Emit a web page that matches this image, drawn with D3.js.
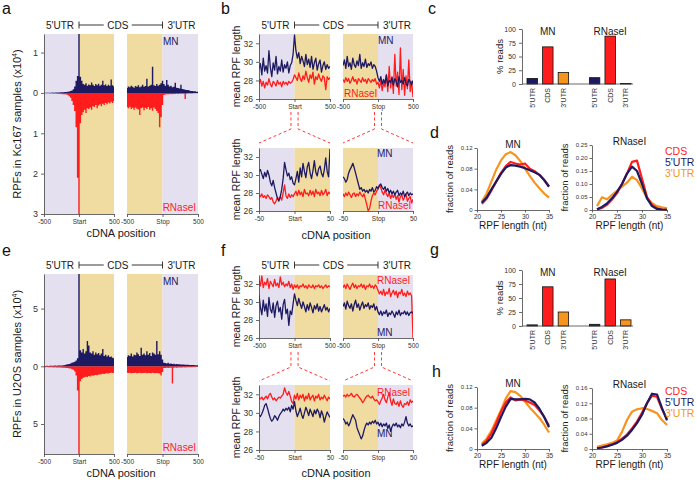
<!DOCTYPE html>
<html>
<head>
<meta charset="utf-8">
<script src="https://cdn.jsdelivr.net/npm/d3@7"></script>
<style>
  body { margin: 0; background: #fff; }
  svg { display: block; font-family: "Liberation Sans", Arial, Helvetica, sans-serif; }
</style>
</head>
<body>
<script>
// colours
const NAVY = '#1e1a62';
const RED = '#ff1c1c';
const ORANGE = '#f7941d';
const LAV = '#e4e0f0';
const TAN = '#f0dba1';
const FONT = '"Liberation Sans", Arial, Helvetica, sans-serif';

// positions around start / stop codons
const posWide = d3.range(-500, 501, 20);
const posNarrow = d3.range(-50, 51, 2);
const regions = ["5'UTR", 'CDS', "3'UTR"];
const regionColors = [NAVY, RED, ORANGE];
const rpfLen = [21, 22, 23, 24, 25, 26, 27, 28, 29, 30, 31, 32, 33, 34, 35];

// a: RPF counts in Kc167 (x10^4), MN up, RNaseI down
const kcCovMnStart = [0.005,0.005,0.006,0.005,0.007,0.006,0.008,0.007,0.009,0.01,
  0.012,0.011,0.014,0.016,0.018,0.02,0.025,0.03,0.035,0.045,
  0.06,0.09,0.16,0.3,0.42,1.6,0.4,0.3,0.22,0.2,
  0.24,0.18,0.21,0.19,0.26,0.2,0.17,0.22,0.19,0.23,
  0.18,0.2,0.3,0.19,0.21,0.17,0.2,0.18,0.33,0.19,
  0.16];
const kcCovMnStop = [0.12,0.16,0.14,0.18,0.15,0.13,0.17,0.15,0.19,0.14,
  0.16,0.2,0.15,0.17,0.35,0.16,0.18,0.2,0.65,0.19,
  0.17,0.22,0.18,0.2,0.24,0.3,0.22,0.18,0.32,0.2,
  0.16,0.18,0.14,0.15,0.25,0.13,0.12,0.11,0.2,0.1,
  0.09,0.08,0.07,0.07,0.06,0.05,0.05,0.04,0.04,0.03,
  0.03];
const kcCovRnStart = [0.01,0.01,0.012,0.01,0.015,0.012,0.015,0.018,0.015,0.02,
  0.02,0.025,0.022,0.03,0.03,0.035,0.04,0.05,0.08,0.12,
  0.2,0.3,0.45,0.85,2.1,3.1,0.75,0.55,0.48,0.42,
  0.5,0.38,0.4,0.36,0.42,0.33,0.35,0.3,0.38,0.31,
  0.28,0.33,0.27,0.3,0.25,0.28,0.24,0.26,0.22,0.25,
  0.2];
const kcCovRnStop = [0.35,0.38,0.34,0.4,0.37,0.42,0.36,0.39,0.41,0.55,
  0.38,0.36,0.43,0.37,0.4,0.35,0.42,0.38,0.44,0.36,
  0.4,0.45,0.5,0.85,0.6,0.3,0.05,0.04,0.035,0.03,
  0.03,0.028,0.03,0.025,0.025,0.022,0.025,0.02,0.02,0.022,
  0.018,0.15,0.018,0.015,0.015,0.012,0.012,0.01,0.01,0.01,
  0.01];

// e: RPF counts in U2OS (x10^4)
const u2CovMnStart = [0.03,0.03,0.04,0.03,0.04,0.05,0.04,0.05,0.06,0.05,
  0.06,0.07,0.08,0.08,0.1,0.12,0.15,0.18,0.2,0.25,
  0.3,0.35,0.4,0.5,0.7,9,1.4,1.2,1.5,1.1,
  1.3,2.2,1.8,1.2,1.1,1.3,1.0,1.2,1.05,1.15,
  0.95,1.1,1.5,0.9,1.0,0.85,0.95,0.8,0.85,0.75,
  0.7];
const u2CovMnStop = [0.8,0.95,0.9,1.1,0.85,1.0,0.95,1.2,1.05,0.9,
  1.6,1.0,1.1,0.95,1.3,1.0,1.15,0.9,1.2,1.1,
  1.0,2.2,1.05,1.3,1.0,0.6,0.3,0.28,0.25,0.3,
  0.22,0.24,0.2,0.22,0.18,0.2,0.17,0.18,0.16,0.15,
  0.16,0.14,0.13,0.14,0.12,0.12,0.11,0.11,0.1,0.1,
  0.1];
const u2CovRnStart = [0.08,0.08,0.07,0.08,0.09,0.08,0.09,0.1,0.09,0.1,
  0.1,0.11,0.1,0.12,0.12,0.13,0.14,0.15,0.18,0.2,
  0.25,0.3,0.45,0.8,2.1,8,1.3,1.1,1.0,0.95,
  0.9,0.92,0.85,0.88,0.8,0.82,0.78,0.75,0.77,0.7,
  0.72,0.68,0.65,0.67,0.62,0.6,0.62,0.58,0.56,0.57,
  0.55];
const u2CovRnStop = [0.55,0.58,0.56,0.6,0.57,0.59,0.55,0.6,0.58,0.56,
  0.61,0.57,0.59,0.55,0.6,0.58,0.57,0.6,0.56,0.58,
  0.6,0.57,0.6,0.62,0.8,0.5,0.15,0.14,0.13,0.14,
  0.12,0.13,1.5,0.12,0.11,0.12,0.1,0.11,0.1,0.1,
  0.09,0.1,0.09,0.08,0.09,0.08,0.08,0.07,0.08,0.07,
  0.07];

// b: mean RPF length, Kc167, +-500
const kcLenMnStart = [29.2,29.8,28.6,30.4,29.0,29.6,28.8,31.2,29.4,28.4,
  29.9,29.1,30.6,28.7,29.5,29.0,30.2,28.9,29.7,29.3,
  30.0,28.8,29.6,29.9,30.8,32.9,31.2,30.4,31.0,29.8,
  30.6,30.1,29.5,30.8,29.7,30.3,29.4,30.6,29.2,29.9,
  30.4,29.1,29.8,30.2,28.9,29.6,30.0,29.2,29.7,29.3,
  29.5];
const kcLenRnStart = [27.6,28.1,27.4,27.9,27.2,27.8,27.5,28.2,27.6,27.3,
  27.9,27.7,27.4,28.0,27.6,27.8,27.3,27.9,27.6,27.8,
  27.5,27.9,27.7,27.8,28.1,28.6,28.3,28.0,28.8,28.2,
  27.9,28.5,28.1,29.0,28.3,27.8,28.6,28.2,28.9,27.6,
  28.4,28.1,28.7,28.2,27.9,28.5,28.3,27.0,28.4,28.1,
  28.3];
const kcLenMnStop = [29.6,30.2,29.3,30.6,29.5,29.9,29.2,30.4,29.7,29.4,
  30.1,29.6,30.8,29.3,29.9,29.5,30.3,29.4,29.8,29.6,
  30.0,29.3,29.7,29.5,29.0,28.3,27.9,28.4,27.6,28.1,
  27.7,28.6,27.4,28.0,27.8,28.3,27.5,28.2,27.9,27.3,
  28.4,27.8,28.0,27.6,28.3,27.7,27.4,28.1,27.9,27.5,
  28.0];
const kcLenRnStop = [28.1,27.8,28.3,27.9,28.2,27.7,28.0,28.4,27.9,28.1,
  27.6,28.2,28.0,27.8,28.3,27.9,28.1,27.7,28.2,28.0,
  27.8,28.1,27.9,28.2,27.6,27.8,27.2,28.0,26.9,27.8,
  27.3,28.6,26.8,29.5,27.2,28.4,26.6,30.8,27.4,28.9,
  26.5,31.5,27.0,29.2,26.4,28.5,27.1,30.2,26.8,27.9,
  26.2];

// b (lower): mean RPF length, Kc167, +-50
const kcZoomMnStart = [30.4,30.6,30.1,29.6,30.3,29.8,30.5,30.0,29.2,28.8,
  29.4,28.6,28.0,27.4,27.1,27.6,28.4,29.6,31.4,30.6,
  29.9,30.2,29.5,29.8,29.1,28.9,29.6,30.4,29.2,30.8,
  29.8,31.3,30.4,29.7,30.9,31.4,30.2,29.6,30.5,31.6,
  30.3,29.9,30.7,31.0,30.2,29.8,30.6,31.9,30.4,29.8,
  32.9];
const kcZoomRnStart = [27.8,27.6,27.9,27.5,27.7,27.4,27.8,27.6,27.3,27.5,
  27.0,26.8,27.1,27.5,27.3,27.6,27.2,28.0,28.9,27.7,
  27.4,27.9,27.5,27.8,27.6,27.9,28.2,27.7,28.3,27.8,
  28.1,27.6,28.4,27.9,28.0,27.7,28.3,27.8,28.2,27.6,
  28.4,27.9,28.1,27.7,28.3,27.8,28.0,28.4,27.7,28.1,
  27.9];
const kcZoomMnStop = [29.8,29.6,29.2,29.5,30.2,30.6,30.9,31.3,30.8,30.2,
  29.6,29.0,28.4,28.6,28.2,28.4,28.1,28.3,28.0,28.4,
  28.2,28.6,28.1,28.3,28.7,28.5,28.8,29.0,28.6,28.4,
  28.7,28.2,28.5,28.0,28.3,27.9,28.2,27.8,28.1,28.3,
  27.7,28.0,27.8,28.2,27.6,27.9,28.1,27.7,28.0,27.8,
  27.9];
const kcZoomRnStop = [27.9,27.6,28.0,27.7,28.1,27.8,27.5,27.9,28.0,27.6,
  27.9,27.7,28.1,27.8,27.6,27.9,27.3,26.7,26.0,26.3,
  27.1,27.7,28.0,27.8,28.2,28.4,28.9,28.6,28.1,27.8,
  28.3,27.9,27.6,28.0,27.4,27.8,27.5,27.9,27.3,27.7,
  27.0,27.6,27.8,27.2,27.5,27.9,27.1,27.4,27.6,26.9,
  27.3];

// f: mean RPF length, U2OS, +-500
const u2LenMnStart = [30.8,29.4,28.6,30.2,29.0,29.8,28.4,30.5,29.2,28.8,
  29.9,28.3,29.6,30.1,28.9,29.4,28.1,29.7,30.3,28.7,
  29.2,27.4,29.0,28.6,29.8,30.9,30.2,29.6,30.4,29.8,
  29.3,30.0,29.5,28.9,29.7,29.1,29.9,29.4,28.8,29.6,
  29.2,29.8,29.0,29.5,28.9,29.3,29.7,29.1,29.4,28.9,
  29.3];
const u2LenRnStart = [32.4,31.8,32.9,31.6,32.2,31.9,32.6,31.5,32.3,32.0,
  31.7,32.5,31.8,32.1,31.6,32.8,31.9,32.2,31.7,32.0,
  31.8,32.3,31.6,32.0,31.4,31.9,31.6,31.9,31.5,31.8,
  31.7,32.0,31.6,31.8,31.5,31.9,31.7,31.6,31.9,31.5,
  31.8,31.7,31.9,31.6,31.8,31.5,31.7,31.9,31.6,31.8,
  31.7];
const u2LenMnStop = [29.5,29.9,29.2,30.1,29.6,29.3,29.8,29.0,29.7,30.2,
  29.4,29.8,29.1,29.6,30.0,29.3,29.7,29.5,29.9,29.2,
  29.6,29.4,29.8,29.1,29.5,28.9,28.6,29.0,28.5,28.9,
  28.7,29.1,28.4,28.8,28.6,29.0,28.7,28.3,28.9,28.6,
  29.1,28.5,28.8,28.7,29.0,28.6,28.9,28.5,28.8,28.9,
  28.7];
const u2LenRnStop = [31.6,31.9,31.5,32.0,31.7,31.4,31.8,32.1,31.6,31.9,
  31.5,31.8,31.7,32.0,31.6,31.9,31.4,31.8,31.7,32.0,
  31.6,31.8,31.5,31.9,31.7,31.3,30.9,31.2,30.8,31.4,
  30.7,31.1,30.9,31.5,30.6,31.0,31.3,30.8,31.2,30.5,
  31.1,30.9,31.4,30.7,31.0,30.6,31.2,30.8,31.0,30.7,
  26.0];

// f (lower): mean RPF length, U2OS, +-50
const u2ZoomMnStart = [29.8,29.6,29.9,30.3,30.8,31.0,30.5,29.9,29.4,29.1,
  29.3,29.7,29.5,29.2,29.6,29.9,30.1,30.4,30.2,30.5,
  30.3,30.6,30.1,30.8,30.4,31.2,30.2,29.6,30.0,30.5,
  29.8,29.4,30.0,30.6,30.2,29.7,30.4,30.0,29.6,30.3,
  29.9,30.4,30.1,29.5,30.2,29.8,29.0,29.6,30.1,29.8,
  29.5];
const u2ZoomRnStart = [31.6,31.5,31.7,31.4,31.6,31.8,31.5,31.9,32.1,31.7,
  31.4,31.6,31.3,31.5,31.7,31.6,31.8,32.0,32.7,32.2,
  31.9,32.3,31.8,31.2,31.0,31.9,31.5,32.1,31.4,31.9,
  31.6,32.0,31.3,31.8,31.5,32.1,31.4,31.7,31.9,31.3,
  31.8,31.6,32.0,31.4,31.7,31.5,31.9,31.6,31.3,31.7,
  31.5];
const u2ZoomMnStop = [29.4,29.2,28.8,29.0,28.6,28.9,29.4,29.8,29.5,29.2,
  28.4,28.0,27.6,27.2,27.5,28.1,28.6,28.9,28.7,29.0,
  28.8,29.1,28.9,29.2,28.8,29.0,28.6,28.9,28.5,28.8,
  28.6,28.9,28.3,28.7,28.0,28.5,28.8,28.6,28.9,28.5,
  28.7,28.4,28.8,28.6,29.0,29.6,28.9,28.6,28.8,28.5,
  28.6];
const u2ZoomRnStop = [31.8,31.9,31.7,32.0,31.8,31.9,32.1,31.8,31.7,31.9,
  32.0,31.8,31.6,31.4,31.1,31.3,31.6,31.8,31.9,31.7,
  31.6,31.8,31.5,31.3,31.4,31.2,30.9,31.3,31.6,32.0,
  31.4,31.1,31.7,32.2,31.3,30.8,31.5,31.0,30.9,31.2,
  30.7,31.3,30.8,30.6,31.0,30.9,31.2,30.8,31.4,31.1,
  31.3];

// c, g: % reads per region (5'UTR, CDS, 3'UTR)
const kcPctMn = [10, 67.5, 21];
const kcPctRn = [11.5, 87, 1];
const u2PctMn = [2, 70, 25];
const u2PctRn = [3, 84, 11];

// d, h: RPF length distributions
const kcDistMnCds = [0.012,0.022,0.038,0.055,0.072,0.085,0.093,0.090,0.088,0.090,0.080,0.075,0.068,0.058,0.046];
const kcDistMnUtr5 = [0.014,0.024,0.040,0.055,0.070,0.082,0.087,0.086,0.084,0.081,0.077,0.073,0.068,0.058,0.045];
const kcDistMnUtr3 = [0.016,0.032,0.055,0.078,0.096,0.108,0.112,0.106,0.095,0.080,0.066,0.053,0.042,0.032,0.024];
const kcDistRnCds = [0.002,0.008,0.02,0.04,0.065,0.1,0.14,0.185,0.19,0.12,0.05,0.02,0.006,0.002,0.001];
const kcDistRnUtr5 = [0.003,0.012,0.025,0.045,0.07,0.1,0.14,0.167,0.15,0.1,0.045,0.015,0.004,0.002,0.001];
const kcDistRnUtr3 = [0.015,0.049,0.041,0.058,0.074,0.09,0.105,0.128,0.115,0.083,0.045,0.026,0.015,0.01,0.006];
const u2DistMnCds = [0.008,0.016,0.03,0.05,0.072,0.09,0.1,0.094,0.096,0.094,0.09,0.085,0.075,0.062,0.045];
const u2DistMnUtr5 = [0.006,0.012,0.022,0.04,0.062,0.082,0.097,0.096,0.096,0.097,0.096,0.09,0.078,0.062,0.042];
const u2DistMnUtr3 = [0.01,0.02,0.035,0.055,0.075,0.098,0.112,0.11,0.103,0.092,0.08,0.07,0.06,0.047,0.032];
const u2DistRnCds = [0.002,0.004,0.008,0.012,0.018,0.027,0.038,0.054,0.072,0.095,0.12,0.14,0.137,0.105,0.078];
const u2DistRnUtr5 = [0.002,0.004,0.007,0.011,0.016,0.024,0.035,0.05,0.068,0.09,0.12,0.145,0.143,0.107,0.075];
const u2DistRnUtr3 = [0.006,0.009,0.012,0.016,0.022,0.045,0.076,0.098,0.104,0.107,0.105,0.1,0.094,0.076,0.063];


const svg = d3.select('body').append('svg').attr('width', 697).attr('height', 480);

function txt(s, x, y, size, opt = {}) {
  const t = svg.append('text')
    .attr('x', x).attr('y', y)
    .attr('font-size', size)
    .attr('fill', opt.fill || '#1a1a1a')
    .attr('text-anchor', opt.anchor || 'start')
    .text(s);
  if (opt.rot) t.attr('transform', `rotate(-90 ${x} ${y})`);
  return t;
}

function yTitle(s, x, yc, size) {
  return txt(s, x, yc, size, { anchor: 'middle', rot: true });
}

function styleAxis(g, size) {
  g.attr('font-family', FONT).attr('font-size', size);
  g.selectAll('path, line').attr('stroke', '#444').attr('stroke-width', 0.8);
  g.selectAll('text').attr('fill', '#333');
}

// "5'UTR |---- CDS ----| 3'UTR" bracket over a panel
function header(x0, x1, y) {
  const mid = (x0 + x1) / 2 - 3;
  txt("5'UTR", x0 - 5, y + 4, 10, { anchor: 'end' });
  txt('CDS', mid, y + 4, 10, { anchor: 'middle' });
  txt("3'UTR", x1 + 5, y + 4, 10);
  const g = svg.append('g').attr('stroke', '#222').attr('stroke-width', 0.9);
  [[x0, mid - 14], [mid + 14, x1]].forEach(([a, b]) =>
    g.append('line').attr('x1', a).attr('x2', b).attr('y1', y).attr('y2', y));
  [x0, x1].forEach(x =>
    g.append('line').attr('x1', x).attr('x2', x).attr('y1', y - 3.5).attr('y2', y + 3.5));
}

function shade(x, yBot, yTop, fills) {
  const [d0, d1] = x.domain();
  svg.append('rect').attr('x', x(d0)).attr('y', yTop)
    .attr('width', x(0) - x(d0)).attr('height', yBot - yTop).attr('fill', fills[0]);
  svg.append('rect').attr('x', x(0)).attr('y', yTop)
    .attr('width', x(d1) - x(0)).attr('height', yBot - yTop).attr('fill', fills[1]);
}

let clipCount = 0;
function clipped(x, yTop, yBot) {
  const id = 'clip' + (clipCount++);
  const [d0, d1] = x.domain();
  svg.append('clipPath').attr('id', id).append('rect')
    .attr('x', x(d0)).attr('y', yTop).attr('width', x(d1) - x(d0)).attr('height', yBot - yTop);
  return svg.append('g').attr('clip-path', `url(#${id})`);
}

function bottomAxis(x, y, ticks, mid) {
  const ax = svg.append('g').attr('transform', `translate(0,${y})`)
    .call(d3.axisBottom(x).tickValues(ticks).tickSize(3).tickSizeOuter(0).tickPadding(2)
      .tickFormat(d => d === 0 ? mid : d));
  styleAxis(ax, 6.5);
}

// a / e : read counts, MN above zero, RNaseI mirrored below
function coveragePanel(o) {
  const xl = d3.scaleLinear().domain([-500, 500]).range([44, 114]);
  const xr = d3.scaleLinear().domain([-500, 500]).range([127, 198]);
  const y = d3.scaleLinear().domain([o.top, -o.bottom]).range([o.yTop, o.yBot]);
  const halves = [
    { x: xl, mn: o.mnStart, rn: o.rnStart, fills: [LAV, TAN], mid: 'Start' },
    { x: xr, mn: o.mnStop, rn: o.rnStop, fills: [TAN, LAV], mid: 'Stop' }
  ];
  halves.forEach(h => {
    shade(h.x, o.yBot, o.yTop, h.fills);
    const g = clipped(h.x, o.yTop, o.yBot);
    const area = sign => d3.area()
      .curve(d3.curveStep)
      .x((d, i) => h.x(posWide[i]))
      .y0(y(0))
      .y1(d => y(sign * d));
    g.append('path').datum(h.rn).attr('fill', RED).attr('d', area(-1));
    g.append('path').datum(h.mn).attr('fill', NAVY).attr('d', area(1));
    bottomAxis(h.x, o.yBot, [-500, 0, 500], h.mid);
  });
  const ay = svg.append('g').attr('transform', 'translate(44,0)')
    .call(d3.axisLeft(y).tickValues(o.ticks).tickSize(3).tickSizeOuter(0).tickFormat(d => Math.abs(d)));
  styleAxis(ay, 9);

  header(xl(0), xr(0), o.yTop - 9);
  txt('MN', 163, o.yTop + 11, 10, { fill: NAVY });
  txt('RNaseI', 196, o.yBot - 3, 10, { fill: RED, anchor: 'end' });
  const lab = yTitle('', 21, (o.yTop + o.yBot) / 2, 11);
  lab.append('tspan').text(`RPFs in ${o.cell} samples (x10`);
  lab.append('tspan').attr('dy', -4).attr('font-size', 7).text('4');
  lab.append('tspan').attr('dy', 4).text(')');
  txt('cDNA position', 121, o.yBot + 23, 11, { anchor: 'middle' });
  return { xl, xr };
}

// b / f : mean RPF length traces
function lengthPanel(o) {
  const xl = d3.scaleLinear().domain(o.dom).range([259, 330]);
  const xr = d3.scaleLinear().domain(o.dom).range([343, 413]);
  const y = d3.scaleLinear().domain([26, 33]).range([o.yBot, o.yTop]);
  const halves = [
    { x: xl, mn: o.mnStart, rn: o.rnStart, fills: [LAV, TAN], mid: 'Start' },
    { x: xr, mn: o.mnStop, rn: o.rnStop, fills: [TAN, LAV], mid: 'Stop' }
  ];
  halves.forEach(h => {
    shade(h.x, o.yBot, o.yTop, h.fills);
    const g = clipped(h.x, o.yTop, o.yBot);
    const line = d3.line().x((d, i) => h.x(o.pos[i])).y(d => y(d));
    [[h.rn, RED], [h.mn, NAVY]].forEach(([d, c]) =>
      g.append('path').datum(d)
        .attr('fill', 'none').attr('stroke', c)
        .attr('stroke-width', 1.3).attr('stroke-linejoin', 'round')
        .attr('d', line));
    bottomAxis(h.x, o.yBot, [o.dom[0], 0, o.dom[1]], h.mid);
  });
  const ay = svg.append('g').attr('transform', 'translate(259,0)')
    .call(d3.axisLeft(y).tickValues([26, 28, 30, 32]).tickSize(3).tickSizeOuter(0)
      .tickFormat(d3.format('d')));
  styleAxis(ay, 8.5);
  yTitle('mean RPF length', 240, (o.yTop + o.yBot) / 2, 10.5);
  o.labels.forEach(l => txt(l.s, l.x, l.y, 10, { fill: l.c }));
  return { xl, xr };
}

// red dashed guides from the +-50 window to the zoomed panel
function connectors(top, zoom, ya, yb, yc) {
  const g = svg.append('g').attr('stroke', '#ff3a3a').attr('stroke-width', 1)
    .attr('stroke-dasharray', '3,2.5').attr('fill', 'none');
  [[top.xl, zoom.xl], [top.xr, zoom.xr]].forEach(([t, z]) => {
    [-50, 50].forEach((p, k) => {
      const x0 = t(p);
      const x1 = z(z.domain()[k]);
      g.append('path').attr('d', `M${x0},${ya}L${x0},${yb}L${x1},${yc}`);
    });
  });
}

// c / g : % reads bars
function barsPanel(o) {
  const slots = ['m0', 'm1', 'm2', 'gap', 'r0', 'r1', 'r2'];
  const x = d3.scaleBand().domain(slots).range([527, 631]).paddingInner(0.33);
  const y = d3.scaleLinear().domain([0, 100]).range([o.yBot, o.yTop]);
  const bars = [
    ...o.mn.map((v, i) => ({ slot: 'm' + i, v, i })),
    ...o.rn.map((v, i) => ({ slot: 'r' + i, v, i }))
  ];
  svg.append('g').selectAll('rect').data(bars).join('rect')
    .attr('x', d => x(d.slot))
    .attr('width', x.bandwidth())
    .attr('y', d => y(d.v))
    .attr('height', d => y(0) - y(d.v))
    .attr('fill', d => regionColors[d.i])
    .attr('stroke', '#111').attr('stroke-width', 0.8);
  svg.append('line').attr('x1', 522).attr('x2', 633).attr('y1', y(0)).attr('y2', y(0))
    .attr('stroke', '#444').attr('stroke-width', 0.8);
  const ay = svg.append('g').attr('transform', 'translate(522,0)')
    .call(d3.axisLeft(y).tickValues([0, 25, 50, 75, 100]).tickSize(3).tickSizeOuter(0));
  styleAxis(ay, 7);
  bars.forEach(d => txt(regions[d.i], x(d.slot) + x.bandwidth() / 2 + 2.5, o.yBot + 4, 7,
    { anchor: 'end', rot: true, fill: '#333' }));
  const bw = x.bandwidth();
  txt('MN', (x('m0') + x('m2') + bw) / 2, o.yTop + 6, 10, { anchor: 'middle' });
  txt('RNaseI', (x('r0') + x('r2') + bw) / 2, o.yTop + 6, 10, { anchor: 'middle' });
  yTitle('% reads', 503, (o.yTop + o.yBot) / 2, 9.5);
}

// d / h : RPF length distributions
function distPanel(o) {
  const x = d3.scaleLinear().domain([20, 35]).range([o.x0, o.x1]);
  const y = d3.scaleLinear().domain([0, o.yMax]).range([o.yBot, o.yTop]);
  const line = d3.line().x((d, i) => x(rpfLen[i])).y(d => y(d));
  [[o.utr3, ORANGE], [o.cds, RED], [o.utr5, NAVY]].forEach(([d, c]) =>
    svg.append('path').datum(d)
      .attr('fill', 'none').attr('stroke', c)
      .attr('stroke-width', 2.2).attr('stroke-linejoin', 'round')
      .attr('d', line));
  const ax = svg.append('g').attr('transform', `translate(0,${o.yBot})`)
    .call(d3.axisBottom(x).tickValues([20, 25, 30, 35]).tickSize(2.5).tickSizeOuter(0).tickPadding(2));
  styleAxis(ax, 6.5);
  const ay = svg.append('g').attr('transform', `translate(${o.x0},0)`)
    .call(d3.axisLeft(y).tickValues(o.ticks).tickSize(2.5).tickSizeOuter(0).tickPadding(2)
      .tickFormat(d => d === 0 ? '0' : d.toFixed(2)));
  styleAxis(ay, 6);
  txt(o.title, (o.x0 + o.x1) / 2, o.yTop, 10, { anchor: 'middle' });
  yTitle('fraction of reads', o.x0 - 24, (o.yTop + o.yBot) / 2, 9.5);
  txt('RPF length (nt)', (o.x0 + o.x1) / 2, o.yBot + 19, 10, { anchor: 'middle' });
}

function legend(x, y) {
  [['CDS', RED], ["5'UTR", NAVY], ["3'UTR", ORANGE]].forEach(([s, c], i) =>
    txt(s, x, y + i * 11, 10.5, { fill: c }));
}

// ---------- panel letters ----------
[['a', 2, 14], ['b', 221, 14], ['c', 428, 14], ['d', 430, 138],
 ['e', 2, 256], ['f', 221, 256], ['g', 430, 255], ['h', 432, 377]]
  .forEach(([s, x, y]) => txt(s, x, y, 16, { fill: '#111' }));

// ---------- Kc167 row ----------
coveragePanel({
  yTop: 34, yBot: 214, top: 1.46, bottom: 3, ticks: [1, 0, -1, -2, -3], cell: 'Kc167',
  mnStart: kcCovMnStart, mnStop: kcCovMnStop, rnStart: kcCovRnStart, rnStop: kcCovRnStop
});
const bTop = lengthPanel({
  yTop: 34, yBot: 99, dom: [-500, 500], pos: posWide,
  mnStart: kcLenMnStart, rnStart: kcLenRnStart, mnStop: kcLenMnStop, rnStop: kcLenRnStop,
  labels: [{ s: 'MN', x: 378, y: 44, c: NAVY }, { s: 'RNaseI', x: 344, y: 97, c: RED }]
});
header(bTop.xl(0), bTop.xr(0), 25);
const bZoom = lengthPanel({
  yTop: 148, yBot: 211, dom: [-50, 50], pos: posNarrow,
  mnStart: kcZoomMnStart, rnStart: kcZoomRnStart, mnStop: kcZoomMnStop, rnStop: kcZoomRnStop,
  labels: [{ s: 'MN', x: 377, y: 157, c: NAVY }, { s: 'RNaseI', x: 378, y: 209, c: RED }]
});
connectors(bTop, bZoom, 112, 129, 143);
txt('cDNA position', 336, 239, 11, { anchor: 'middle' });

barsPanel({ yTop: 29, yBot: 84, mn: kcPctMn, rn: kcPctRn });
distPanel({ x0: 477, x1: 549, yTop: 148, yBot: 210, yMax: 0.12, ticks: [0, 0.04, 0.08, 0.12],
  title: 'MN', cds: kcDistMnCds, utr5: kcDistMnUtr5, utr3: kcDistMnUtr3 });
distPanel({ x0: 592, x1: 667, yTop: 145, yBot: 210, yMax: 0.25, ticks: [0, 0.05, 0.1, 0.15, 0.2, 0.25],
  title: 'RNaseI', cds: kcDistRnCds, utr5: kcDistRnUtr5, utr3: kcDistRnUtr3 });
legend(665, 155);

// ---------- U2OS row ----------
coveragePanel({
  yTop: 274, yBot: 454, top: 8, bottom: 7.6, ticks: [5, 0, -5], cell: 'U2OS',
  mnStart: u2CovMnStart, mnStop: u2CovMnStop, rnStart: u2CovRnStart, rnStop: u2CovRnStop
});
const fTop = lengthPanel({
  yTop: 275, yBot: 338, dom: [-500, 500], pos: posWide,
  mnStart: u2LenMnStart, rnStart: u2LenRnStart, mnStop: u2LenMnStop, rnStop: u2LenRnStop,
  labels: [{ s: 'RNaseI', x: 377, y: 284, c: RED }, { s: 'MN', x: 377, y: 336, c: NAVY }]
});
header(fTop.xl(0), fTop.xr(0), 265);
const fZoom = lengthPanel({
  yTop: 385, yBot: 450, dom: [-50, 50], pos: posNarrow,
  mnStart: u2ZoomMnStart, rnStart: u2ZoomRnStart, mnStop: u2ZoomMnStop, rnStop: u2ZoomRnStop,
  labels: [{ s: 'RNaseI', x: 377, y: 396, c: RED }, { s: 'MN', x: 377, y: 437, c: NAVY }]
});
connectors(fTop, fZoom, 352, 367, 381);
txt('cDNA position', 336, 477, 11, { anchor: 'middle' });

barsPanel({ yTop: 270, yBot: 326, mn: u2PctMn, rn: u2PctRn });
distPanel({ x0: 477, x1: 549, yTop: 387, yBot: 449, yMax: 0.12, ticks: [0, 0.04, 0.08, 0.12],
  title: 'MN', cds: u2DistMnCds, utr5: u2DistMnUtr5, utr3: u2DistMnUtr3 });
distPanel({ x0: 592, x1: 667, yTop: 388, yBot: 449, yMax: 0.16, ticks: [0, 0.04, 0.08, 0.12, 0.16],
  title: 'RNaseI', cds: u2DistRnCds, utr5: u2DistRnUtr5, utr3: u2DistRnUtr3 });
legend(665, 395);
</script>
</body>
</html>
